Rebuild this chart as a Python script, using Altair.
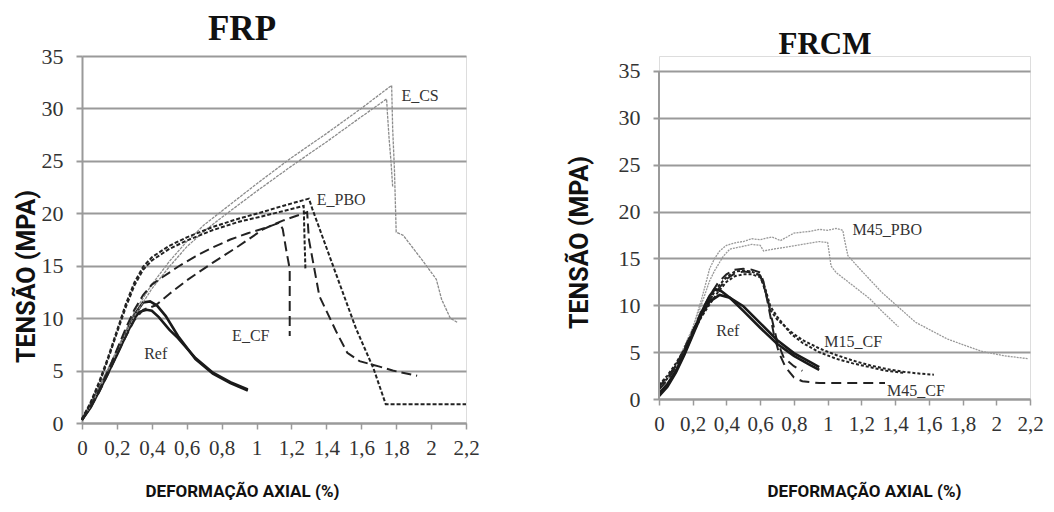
import altair as alt
import pandas as pd

# ---------------- DATA ----------------
x_ticks = [0, 0.2, 0.4, 0.6, 0.8, 1.0, 1.2, 1.4, 1.6, 1.8, 2.0, 2.2]
y_ticks = [0, 5, 10, 15, 20, 25, 30, 35]

# FRP panel
frp_ref1_x = [0, 0.05, 0.1, 0.15, 0.2, 0.25, 0.3, 0.35, 0.39, 0.43, 0.48, 0.55, 0.65, 0.75, 0.85, 0.95]
frp_ref1_y = [0.3, 1.7, 3.3, 5.0, 6.7, 8.5, 10.3, 11.5, 11.6, 11.2, 10.2, 8.3, 6.1, 4.7, 3.8, 3.1]
frp_ref2_x = [0, 0.05, 0.1, 0.15, 0.2, 0.25, 0.3, 0.33, 0.37, 0.4, 0.44, 0.5, 0.55, 0.65, 0.75, 0.85, 0.95]
frp_ref2_y = [0.3, 1.5, 3.1, 4.8, 6.5, 8.3, 10.0, 10.6, 10.8, 10.7, 10.1, 8.9, 8.1, 6.2, 4.8, 3.9, 3.2]

frp_cs1_x = [0, 0.05, 0.1, 0.15, 0.2, 0.25, 0.3, 0.4, 0.5, 0.6, 0.7, 0.8, 1.0, 1.2, 1.4, 1.6, 1.774, 1.78, 1.79, 1.8, 1.84, 1.9, 1.96, 2.03, 2.06, 2.11, 2.15]
frp_cs1_y = [0.5, 1.8, 3.5, 5.2, 7.0, 8.8, 10.6, 13.2, 15.4, 17.3, 18.9, 20.2, 22.8, 25.3, 27.6, 30.0, 32.2, 28.0, 24.2, 18.2, 17.9, 16.6, 15.3, 13.7, 11.8, 10.0, 9.6]
frp_cs2_x = [0, 0.05, 0.1, 0.15, 0.2, 0.25, 0.3, 0.4, 0.5, 0.6, 0.7, 0.8, 1.0, 1.2, 1.4, 1.6, 1.745, 1.75, 1.76, 1.77, 1.78]
frp_cs2_y = [0.4, 1.6, 3.3, 5.0, 6.8, 8.5, 10.2, 12.8, 14.9, 16.8, 18.3, 19.6, 22.1, 24.5, 26.8, 29.2, 30.9, 29.5, 27.0, 25.0, 22.5]

frp_pbo1_x = [0, 0.05, 0.1, 0.15, 0.2, 0.25, 0.3, 0.35, 0.4, 0.5, 0.6, 0.75, 0.9, 1.03, 1.15, 1.3, 1.32, 1.46, 1.57, 1.67, 1.74, 1.9, 2.2]
frp_pbo1_y = [0.4, 2.0, 4.0, 6.3, 8.8, 11.3, 13.4, 14.9, 15.8, 16.9, 17.7, 18.7, 19.5, 20.1, 20.7, 21.4, 20.4, 14.0, 9.0, 5.2, 1.8, 1.8, 1.8]
frp_pbo2_x = [0, 0.05, 0.1, 0.15, 0.2, 0.25, 0.3, 0.35, 0.4, 0.5, 0.6, 0.75, 0.9, 1.03, 1.15, 1.27, 1.275, 1.28]
frp_pbo2_y = [0.3, 1.9, 3.8, 6.1, 8.6, 11.0, 13.1, 14.6, 15.5, 16.6, 17.4, 18.4, 19.2, 19.7, 20.2, 20.7, 17.5, 14.7]

frp_cf1_x = [0, 0.05, 0.1, 0.15, 0.2, 0.25, 0.3, 0.35, 0.4, 0.46, 0.55, 0.65, 0.75, 0.85, 0.95, 1.05, 1.13, 1.15, 1.17, 1.19, 1.19]
frp_cf1_y = [0.3, 1.6, 3.2, 5.0, 7.0, 9.0, 10.8, 12.2, 13.2, 13.9, 14.9, 15.9, 16.75, 17.5, 18.1, 18.6, 19.1, 18.5, 16.5, 14.7, 8.3]
frp_cf2_x = [0, 0.05, 0.1, 0.15, 0.2, 0.25, 0.3, 0.35, 0.42, 0.5, 0.6, 0.75, 0.9, 1.04, 1.15, 1.29, 1.3, 1.36, 1.46, 1.52, 1.59, 1.7, 1.78, 1.92]
frp_cf2_y = [0.3, 1.5, 3.0, 4.7, 6.5, 8.2, 9.8, 10.8, 11.2, 12.3, 13.6, 15.3, 16.9, 18.5, 19.3, 20.1, 17.5, 12.1, 8.6, 6.7, 5.9, 5.4, 5.0, 4.5]

# FRCM panel
frcm_ref1_x = [0, 0.05, 0.1, 0.15, 0.2, 0.25, 0.3, 0.33, 0.37, 0.42, 0.5, 0.6, 0.7, 0.8, 0.9, 0.95]
frcm_ref1_y = [0.6, 1.6, 3.0, 4.8, 7.0, 9.2, 11.0, 11.7, 11.5, 10.8, 9.4, 7.6, 5.9, 4.6, 3.6, 3.1]
frcm_ref2_x = [0, 0.05, 0.1, 0.15, 0.2, 0.25, 0.3, 0.36, 0.42, 0.5, 0.6, 0.7, 0.8, 0.9, 0.95]
frcm_ref2_y = [0.3, 1.3, 2.8, 4.7, 6.8, 8.9, 10.4, 11.1, 10.8, 9.9, 8.1, 6.3, 4.9, 3.9, 3.4]

frcm_m15cf1_x = [0, 0.05, 0.1, 0.15, 0.2, 0.25, 0.3, 0.35, 0.4, 0.45, 0.5, 0.55, 0.6, 0.63, 0.66, 0.7, 0.78, 0.85, 0.95, 1.05, 1.15, 1.25, 1.35, 1.45, 1.55, 1.63]
frcm_m15cf1_y = [1.5, 2.5, 3.8, 5.3, 7.2, 9.0, 10.6, 12.0, 13.0, 13.6, 13.7, 13.6, 13.2, 11.5, 9.5, 8.5, 7.2, 6.3, 5.4, 4.7, 4.1, 3.6, 3.2, 2.9, 2.7, 2.6]
frcm_m15cf2_x = [0, 0.05, 0.1, 0.15, 0.2, 0.25, 0.3, 0.35, 0.4, 0.45, 0.5, 0.55, 0.6, 0.63, 0.66, 0.7, 0.78, 0.85, 0.95, 1.05, 1.15, 1.25, 1.35, 1.45]
frcm_m15cf2_y = [1.2, 2.2, 3.6, 5.2, 7.0, 8.7, 10.1, 11.4, 12.5, 13.1, 13.3, 13.3, 13.0, 11.8, 9.9, 8.8, 7.0, 6.0, 5.0, 4.3, 3.8, 3.4, 3.0, 2.8]

frcm_m45cf1_x = [0, 0.05, 0.1, 0.15, 0.2, 0.25, 0.3, 0.35, 0.4, 0.45, 0.5, 0.55, 0.6, 0.62, 0.65, 0.68, 0.71, 0.75, 0.8, 0.85, 0.95, 1.1, 1.25, 1.34]
frcm_m45cf1_y = [1.0, 2.0, 3.4, 5.1, 7.2, 9.3, 11.0, 12.4, 13.3, 13.8, 13.9, 13.8, 13.5, 12.5, 9.8, 7.0, 5.0, 3.4, 2.3, 1.9, 1.7, 1.7, 1.7, 1.7]
frcm_m45cf2_x = [0, 0.1, 0.2, 0.3, 0.4, 0.45, 0.5, 0.55, 0.6, 0.64, 0.67, 0.7, 0.74, 0.8, 0.85]
frcm_m45cf2_y = [1.3, 3.5, 7.3, 10.6, 12.8, 13.4, 13.6, 13.5, 13.2, 11.0, 8.5, 6.2, 4.4, 3.5, 3.0]

frcm_pbo1_x = [0, 0.1, 0.2, 0.25, 0.28, 0.3, 0.33, 0.36, 0.4, 0.46, 0.5, 0.55, 0.6, 0.67, 0.72, 0.8, 0.9, 0.95, 1.0, 1.05, 1.09, 1.1, 1.12, 1.19, 1.32, 1.52, 1.71, 1.91, 2.05, 2.19]
frcm_pbo1_y = [1.2, 3.6, 7.6, 10.5, 12.5, 13.9, 15.0, 15.8, 16.4, 16.7, 16.8, 17.1, 17.0, 17.3, 16.9, 17.7, 17.9, 18.1, 18.0, 18.2, 18.0, 17.0, 15.3, 13.9, 11.4, 8.2, 6.4, 5.1, 4.6, 4.3]
frcm_pbo2_x = [0, 0.1, 0.2, 0.25, 0.3, 0.33, 0.38, 0.42, 0.5, 0.55, 0.6, 0.62, 0.68, 0.75, 0.85, 0.95, 1.0, 1.01, 1.02, 1.05, 1.1, 1.15, 1.2, 1.25, 1.32, 1.42]
frcm_pbo2_y = [1.0, 3.3, 7.3, 10.0, 12.6, 13.7, 15.2, 16.0, 16.3, 16.5, 16.4, 15.8, 16.0, 16.2, 16.5, 16.8, 16.7, 15.5, 14.2, 13.5, 12.8, 12.1, 11.4, 10.7, 9.4, 7.7]

frp_label_text = ["E_CS", "E_PBO", "E_CF", "Ref"]
frp_label_x = [1.83, 1.345, 0.86, 0.356]
frp_label_y = [31.2, 21.3, 8.3, 6.6]

frcm_label_text = ["M45_PBO", "M15_CF", "M45_CF", "Ref"]
frcm_label_x = [1.148, 0.98, 1.352, 0.34]
frcm_label_y = [18.0, 6.05, 0.9, 7.3]

# ---------------- STYLES ----------------
STYLES = {
    "ref": dict(color="#1a1a1a", strokeWidth=2.6),
    "cs": dict(color="#8c8c8c", strokeWidth=1.3, strokeDash=[3, 1]),
    "pbo": dict(color="#222222", strokeWidth=2.0, strokeDash=[4, 2]),
    "cf": dict(color="#222222", strokeWidth=2.0, strokeDash=[10, 5]),
    "mpbo": dict(color="#999999", strokeWidth=1.3, strokeDash=[2, 1]),
    "m15": dict(color="#222222", strokeWidth=2.0, strokeDash=[3, 2]),
    "m45": dict(color="#222222", strokeWidth=2.0, strokeDash=[10, 6]),
}

frp_curves = [
    ("ref1", "ref", frp_ref1_x, frp_ref1_y), ("ref2", "ref", frp_ref2_x, frp_ref2_y),
    ("cs1", "cs", frp_cs1_x, frp_cs1_y), ("cs2", "cs", frp_cs2_x, frp_cs2_y),
    ("pbo1", "pbo", frp_pbo1_x, frp_pbo1_y), ("pbo2", "pbo", frp_pbo2_x, frp_pbo2_y),
    ("cf1", "cf", frp_cf1_x, frp_cf1_y), ("cf2", "cf", frp_cf2_x, frp_cf2_y),
]
frcm_curves = [
    ("pbo1", "mpbo", frcm_pbo1_x, frcm_pbo1_y), ("pbo2", "mpbo", frcm_pbo2_x, frcm_pbo2_y),
    ("m15a", "m15", frcm_m15cf1_x, frcm_m15cf1_y), ("m15b", "m15", frcm_m15cf2_x, frcm_m15cf2_y),
    ("m45a", "m45", frcm_m45cf1_x, frcm_m45cf1_y), ("m45b", "m45", frcm_m45cf2_x, frcm_m45cf2_y),
    ("ref1", "ref", frcm_ref1_x, frcm_ref1_y), ("ref2", "ref", frcm_ref2_x, frcm_ref2_y),
]

GRID = "#9a9a9a"
LABEL_FONT = "Liberation Serif"
TITLE_SANS = "Roboto"
x_label_expr = "replace(toString(round(datum.value*10)/10), '.', ',')"


def build_df(curves):
    rows = []
    for name, style, xs, ys in curves:
        for i, (xv, yv) in enumerate(zip(xs, ys)):
            rows.append(dict(curve=name, style=style, i=i, x=xv, y=yv))
    return pd.DataFrame(rows)


def panel(curves, labels, title, title_size, title_dx, title_offset, ymax, width, height,
          ytitle_x, ytitle_y, xtitle_x, xtitle_y, draw_yrule):
    df = build_df(curves)
    xs = alt.Scale(domain=[0, 2.2], nice=False, zero=False)
    ys = alt.Scale(domain=[0, ymax], nice=False, zero=False)
    xaxis = alt.Axis(values=x_ticks, labelExpr=x_label_expr, grid=False,
                     domainColor=GRID, domainWidth=2, tickColor=GRID, tickWidth=1.5, tickSize=6,
                     labelFont=LABEL_FONT, labelFontSize=21, labelColor="#333333", labelPadding=8,
                     labelFlush=False, labelOverlap=False,
                     title="DEFORMAÇÃO AXIAL (%)", titleFont=TITLE_SANS, titleFontSize=17,
                     titleFontWeight="bold", titleColor="#111111", titleX=xtitle_x, titleY=xtitle_y,
                     titleAlign="center", titleBaseline="middle")
    yaxis = alt.Axis(values=y_ticks, grid=True, gridColor=GRID, gridWidth=2,
                     domain=not draw_yrule, domainColor=GRID, domainWidth=2,
                     tickColor=GRID, tickWidth=2, tickSize=6,
                     labelFont=LABEL_FONT, labelFontSize=22, labelColor="#333333", labelPadding=13,
                     labelFlush=False, labelOverlap=False,
                     title="TENSÃO (MPA)", titleFont=TITLE_SANS, titleFontSize=25,
                     titleFontWeight="bold", titleColor="#111111", titleX=ytitle_x, titleY=ytitle_y,
                     titleAlign="center", titleBaseline="middle", titleAngle=270)
    layers = []
    for style in dict.fromkeys(df["style"]):
        sub = df[df["style"] == style]
        layers.append(
            alt.Chart(sub).mark_line(strokeCap="butt", strokeJoin="miter", **STYLES[style]).encode(
                x=alt.X("x:Q", scale=xs, axis=xaxis),
                y=alt.Y("y:Q", scale=ys, axis=yaxis),
                detail="curve:N",
                order="i:Q",
            )
        )
    if draw_yrule:
        rule_df = pd.DataFrame({"x": [0], "y": [0], "y2": [35]})
        layers.append(
            alt.Chart(rule_df).mark_rule(color=GRID, strokeWidth=2).encode(
                x=alt.X("x:Q", scale=xs, axis=xaxis),
                y=alt.Y("y:Q", scale=ys, axis=yaxis),
                y2="y2:Q",
            )
        )
    ltext, lx, ly = labels
    lab_df = pd.DataFrame({"label": ltext, "x": lx, "y": ly})
    layers.append(
        alt.Chart(lab_df).mark_text(align="left", baseline="middle", font=LABEL_FONT,
                                    fontSize=16, color="#333333").encode(
            x=alt.X("x:Q", scale=xs, axis=xaxis),
            y=alt.Y("y:Q", scale=ys, axis=yaxis),
            text="label:N",
        )
    )
    return alt.layer(*layers).properties(
        width=width, height=height,
        title=alt.TitleParams(text=title, font=LABEL_FONT, fontSize=title_size, fontWeight="bold",
                              color="#111111", anchor="start", frame="group", align="center",
                              dx=title_dx, offset=title_offset, baseline="alphabetic"),
    )


left = panel(frp_curves, (frp_label_text, frp_label_x, frp_label_y), "FRP", 35, 160, -29.5,
             35, 384, 367, -56, 220, 160, 68, False)
right = panel(frcm_curves, (frcm_label_text, frcm_label_x, frcm_label_y), "FRCM", 31, 166, -28.5,
              36.6, 371, 343, -80, 186, 205, 92, True)

chart = alt.hconcat(left, right, spacing=193, bounds="flush").properties(
    padding={"left": 5, "top": 3, "right": 0, "bottom": 0}
).configure_view(stroke=None).configure(background="white")

chart.save("out.html", embed_options={"renderer": "svg", "actions": False})
